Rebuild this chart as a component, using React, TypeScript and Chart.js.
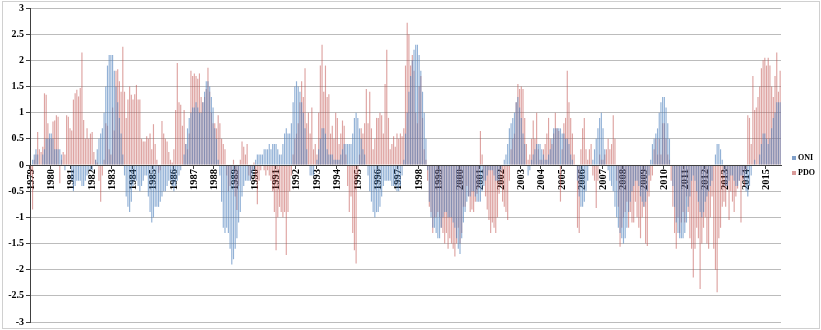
import React, { useEffect, useRef } from "react";
import { Chart, registerables } from "chart.js";

Chart.register(...registerables);

// Year tick labels (one per January)
const YEARS = [
  "1979", "1980", "1981", "1982", "1983", "1984", "1985", "1986", "1987", "1988",
  "1989", "1990", "1991", "1992", "1993", "1994", "1995", "1996", "1997", "1998",
  "1999", "2000", "2001", "2002", "2003", "2004", "2005", "2006", "2007", "2008",
  "2009", "2010", "2011", "2012", "2013", "2014", "2015",
];

// Oceanic Niño Index, monthly, Jan 1979 – Sep 2015
const ONI = [
  0.0, 0.1, 0.2, 0.3, 0.2, 0.0, 0.0, 0.2, 0.3, 0.5, 0.5, 0.6, // 1979
  0.6, 0.5, 0.3, 0.3, 0.3, 0.3, 0.2, 0.0, -0.1, 0.0, 0.0, 0.0, // 1980
  -0.3, -0.5, -0.4, -0.3, -0.3, -0.3, -0.4, -0.4, -0.3, -0.2, -0.1, -0.1, // 1981
  -0.1, 0.0, 0.1, 0.3, 0.5, 0.6, 0.7, 1.0, 1.5, 1.9, 2.1, 2.1, // 1982
  2.1, 1.8, 1.5, 1.2, 0.9, 0.6, 0.2, -0.2, -0.6, -0.8, -0.9, -0.7, // 1983
  -0.4, -0.3, -0.3, -0.4, -0.5, -0.4, -0.3, -0.2, -0.2, -0.6, -0.9, -1.1, // 1984
  -1.0, -0.8, -0.8, -0.8, -0.7, -0.6, -0.5, -0.5, -0.4, -0.3, -0.3, -0.4, // 1985
  -0.5, -0.4, -0.3, -0.2, -0.1, 0.0, 0.2, 0.4, 0.7, 0.9, 1.0, 1.1, // 1986
  1.1, 1.2, 1.1, 1.0, 1.0, 1.2, 1.4, 1.6, 1.6, 1.5, 1.3, 1.1, // 1987
  0.7, 0.5, 0.1, -0.2, -0.7, -1.2, -1.3, -1.2, -1.3, -1.6, -1.9, -1.8, // 1988
  -1.6, -1.4, -1.1, -0.9, -0.6, -0.4, -0.3, -0.3, -0.3, -0.3, -0.2, -0.1, // 1989
  0.1, 0.2, 0.2, 0.2, 0.2, 0.3, 0.3, 0.3, 0.4, 0.3, 0.4, 0.4, // 1990
  0.4, 0.3, 0.2, 0.2, 0.4, 0.6, 0.7, 0.6, 0.6, 0.8, 1.2, 1.5, // 1991
  1.6, 1.5, 1.4, 1.2, 1.0, 0.7, 0.3, 0.0, -0.2, -0.2, -0.2, 0.0, // 1992
  0.1, 0.3, 0.5, 0.7, 0.7, 0.6, 0.3, 0.2, 0.2, 0.2, 0.1, 0.1, // 1993
  0.1, 0.1, 0.2, 0.3, 0.4, 0.4, 0.4, 0.4, 0.4, 0.6, 0.9, 1.0, // 1994
  0.9, 0.7, 0.5, 0.3, 0.2, 0.0, -0.2, -0.5, -0.7, -0.9, -1.0, -0.9, // 1995
  -0.9, -0.8, -0.6, -0.4, -0.3, -0.3, -0.3, -0.3, -0.4, -0.4, -0.4, -0.5, // 1996
  -0.5, -0.4, -0.2, 0.1, 0.6, 1.0, 1.4, 1.7, 2.0, 2.2, 2.3, 2.3, // 1997
  2.1, 1.8, 1.4, 1.0, 0.5, -0.1, -0.7, -1.0, -1.2, -1.2, -1.3, -1.4, // 1998
  -1.4, -1.2, -1.0, -0.9, -0.9, -1.0, -1.0, -1.0, -1.1, -1.2, -1.4, -1.6, // 1999
  -1.7, -1.4, -1.1, -0.9, -0.7, -0.6, -0.6, -0.5, -0.5, -0.6, -0.7, -0.7, // 2000
  -0.7, -0.5, -0.4, -0.3, -0.2, -0.1, -0.1, -0.1, -0.2, -0.3, -0.3, -0.3, // 2001
  -0.1, 0.0, 0.1, 0.2, 0.4, 0.7, 0.8, 0.9, 1.0, 1.2, 1.3, 1.1, // 2002
  0.9, 0.6, 0.4, 0.0, -0.2, -0.1, 0.1, 0.2, 0.3, 0.4, 0.4, 0.4, // 2003
  0.3, 0.2, 0.1, 0.1, 0.2, 0.3, 0.5, 0.7, 0.7, 0.7, 0.7, 0.7, // 2004
  0.6, 0.6, 0.5, 0.5, 0.4, 0.2, 0.1, 0.0, 0.0, -0.3, -0.6, -0.8, // 2005
  -0.8, -0.7, -0.5, -0.3, 0.0, 0.0, 0.1, 0.3, 0.5, 0.7, 0.9, 1.0, // 2006
  0.7, 0.3, 0.0, -0.1, -0.3, -0.4, -0.5, -0.8, -1.0, -1.2, -1.3, -1.4, // 2007
  -1.5, -1.4, -1.2, -0.9, -0.7, -0.5, -0.4, -0.3, -0.3, -0.4, -0.6, -0.7, // 2008
  -0.8, -0.7, -0.5, -0.2, 0.1, 0.4, 0.5, 0.6, 0.7, 1.0, 1.2, 1.3, // 2009
  1.3, 1.1, 0.8, 0.5, 0.0, -0.4, -0.8, -1.1, -1.3, -1.4, -1.4, -1.4, // 2010
  -1.3, -1.1, -0.8, -0.6, -0.3, -0.2, -0.3, -0.5, -0.7, -0.9, -1.0, -0.9, // 2011
  -0.7, -0.6, -0.5, -0.4, -0.3, 0.0, 0.2, 0.4, 0.4, 0.3, 0.1, -0.2, // 2012
  -0.4, -0.4, -0.3, -0.2, -0.2, -0.3, -0.4, -0.4, -0.3, -0.2, -0.2, -0.3, // 2013
  -0.5, -0.6, -0.4, -0.2, 0.0, 0.1, 0.0, 0.0, 0.2, 0.4, 0.6, 0.6, // 2014
  0.5, 0.4, 0.5, 0.7, 0.9, 1.0, 1.2, 1.2, 1.2, // 2015
];

// Pacific Decadal Oscillation index, monthly, Jan 1979 – Sep 2015
const PDO = [
  -0.2, -0.85, 0.1, 0.2, 0.63, 0.3, 0.25, 0.35, 1.37, 1.34, 0.8, 0.5, // 1979
  0.5, 0.83, 0.85, 0.95, 0.92, -0.35, 0.1, 0.25, 0.2, 0.95, 0.92, 0.7, // 1980
  0.66, 1.25, 1.37, 1.44, 1.31, 1.47, 2.15, 0.86, 0.5, 0.7, 0.5, 0.6, // 1981
  0.63, 0.25, 0.1, 0.05, -0.3, -0.7, -0.2, 0.1, 0.8, 0.75, 0.3, 0.2, // 1982
  1.1, 0.66, 1.8, 1.83, 1.6, 1.4, 2.26, 1.4, 0.9, 1.25, 1.5, 1.34, // 1983
  1.25, 1.35, 1.53, 1.25, 1.25, 0.5, 0.45, 0.45, 0.55, 0.5, 0.6, 0.3, // 1984
  0.78, 0.4, 0.1, -0.15, -0.1, 0.84, 0.6, 0.5, 0.45, 0.25, 0.1, 0.05, // 1985
  0.3, 1.05, 1.95, 1.2, 1.15, 0.75, 1.05, 0.4, 0.3, 0.6, 1.8, 1.7, // 1986
  1.75, 1.7, 1.65, 1.75, 1.3, 1.2, 1.3, 1.45, 1.86, 1.4, 1.0, 0.8, // 1987
  0.8, 0.7, 0.95, 0.8, 0.5, 0.4, 0.3, -0.2, -0.5, -0.4, -0.1, 0.1, // 1988
  -0.6, -0.86, -0.4, 0.1, 0.45, 0.35, 0.2, 0.4, -0.2, -0.3, -0.1, 0.05, // 1989
  -0.3, -0.75, -0.3, -0.1, 0.0, -0.1, -0.2, -0.1, -0.2, -0.3, -0.5, -0.9, // 1990
  -1.63, -1.0, -0.8, -0.9, -1.0, -0.9, -1.72, -0.9, -0.5, -0.2, 0.2, 0.5, // 1991
  0.6, 0.8, 1.2, 1.6, 1.3, 1.85, 0.8, 1.0, 0.6, 1.1, 0.3, 0.4, // 1992
  0.2, 1.0, 1.9, 2.3, 1.4, 1.9, 1.3, 1.35, 0.6, 0.75, 0.5, 1.0, // 1993
  0.9, 0.4, 0.6, 0.85, 0.75, 0.2, -0.4, -0.9, -0.6, -1.3, -1.63, -1.88, // 1994
  -0.2, 0.2, 0.7, 0.6, 0.8, 1.45, 0.8, 1.4, 0.7, 0.3, 0.5, 0.9, // 1995
  0.9, 1.0, 0.95, 0.6, 1.55, 2.2, 0.9, 0.3, 0.4, 0.55, 0.35, 0.6, // 1996
  0.5, 0.6, 0.55, 0.7, 1.9, 2.72, 2.5, 1.9, 2.1, 1.8, 1.0, 0.8, // 1997
  1.5, 1.7, 0.9, 0.3, 0.1, -0.3, -0.8, -0.9, -1.3, -1.0, -1.0, -0.9, // 1998
  -1.0, -1.2, -1.3, -1.5, -1.3, -1.6, -1.4, -1.5, -1.6, -1.75, -1.5, -1.2, // 1999
  -1.5, -1.3, -0.8, -0.8, -0.4, -0.6, -0.9, -0.85, -0.9, -0.7, -0.55, -0.45, // 2000
  0.65, 0.2, -0.3, -0.6, -0.85, -1.05, -1.3, -1.1, -1.2, -1.3, -1.0, -0.55, // 2001
  -0.4, -0.7, -0.8, -0.9, -1.05, -0.3, 0.3, 0.5, 0.6, 1.2, 1.55, 1.45, // 2002
  1.5, 1.45, 0.9, 0.4, 0.1, 0.2, 0.5, 0.85, 0.5, 1.0, 0.3, 0.1, // 2003
  0.1, 0.3, 0.4, 0.6, 0.9, 0.5, 0.4, 0.6, 1.0, 0.7, 0.65, -0.7, // 2004
  0.3, 0.8, 0.9, 1.8, 1.2, 0.9, 0.6, 0.2, 0.0, -1.2, -1.3, 0.3, // 2005
  0.7, 0.9, 0.3, 0.1, 0.3, 0.4, -0.2, -0.3, -0.82, -0.3, 0.2, 0.1, // 2006
  0.1, 0.2, 0.3, 0.5, 0.3, 0.4, 0.95, 0.5, -0.3, -0.8, -1.56, -1.2, // 2007
  -1.0, -0.9, -0.7, -1.2, -0.9, -1.1, -1.1, -0.7, -1.0, -1.2, -1.4, -1.0, // 2008
  -0.8, -1.5, -1.55, -0.6, -0.3, -0.2, 0.3, 0.5, 0.2, 0.5, 0.2, 0.8, // 2009
  0.8, 0.5, 0.2, 0.1, -0.3, -0.8, -1.3, -1.6, -1.0, -1.3, -1.1, -0.9, // 2010
  -1.1, -0.6, -0.9, -1.4, -1.6, -2.15, -1.6, -1.2, -1.4, -2.37, -1.5, -1.2, // 2011
  -1.0, -1.5, -1.6, -1.0, -0.6, -1.6, -2.0, -2.43, -1.4, -1.2, -0.8, -0.7, // 2012
  -0.8, -0.4, -1.05, -0.5, -0.7, -0.9, -0.6, -0.45, -0.3, -1.1, -0.3, -0.4, // 2013
  -0.1, 0.95, 0.9, 0.4, 1.7, 1.05, 1.1, 1.3, 1.5, 1.85, 2.0, 2.05, // 2014
  1.9, 2.05, 1.9, 1.5, 1.3, 1.7, 2.15, 1.4, 1.8, // 2015
];

const SERIES_NAMES = ["ONI", "PDO"];

const ONI_FILL = "rgba(79,129,189,0.62)";
const PDO_FILL = "rgba(192,80,77,0.52)";
const ONI_SWATCH = "#7f9fc9";
const PDO_SWATCH = "#d99a99";
const FONT_FAMILY = '"Liberation Serif", "Times New Roman", serif';

// One category per month; only Januaries carry a year label
const CATEGORIES = ONI.map((_, i) => (i % 12 === 0 ? YEARS[i / 12] : ""));

const sideLegend = {
  id: "sideLegend",
  afterDraw(chart: any) {
    const { ctx, chartArea } = chart;
    const cy = (chartArea.top + chartArea.bottom) / 2;
    const x = chartArea.right + 11;
    const items = [
      { t: SERIES_NAMES[0], c: ONI_SWATCH, y: cy - 7 },
      { t: SERIES_NAMES[1], c: PDO_SWATCH, y: cy + 8 },
    ];
    ctx.save();
    ctx.font = `bold 8px ${FONT_FAMILY}`;
    ctx.textBaseline = "middle";
    ctx.textAlign = "left";
    for (const it of items) {
      ctx.fillStyle = it.c;
      ctx.fillRect(x, it.y - 2, 4, 4);
      ctx.fillStyle = "#000";
      ctx.fillText(it.t, x + 6, it.y);
    }
    ctx.restore();
  },
};

export default function App() {
  const canvasRef = useRef<HTMLCanvasElement | null>(null);

  useEffect(() => {
    document.body.style.margin = "0";
    const canvas = canvasRef.current;
    if (!canvas) return;
    const chart = new Chart(canvas, {
      type: "bar",
      data: {
        labels: CATEGORIES,
        datasets: [
          {
            label: SERIES_NAMES[0],
            data: ONI,
            backgroundColor: ONI_FILL,
            borderWidth: 0,
            grouped: false,
            barPercentage: 0.68,
            categoryPercentage: 1,
          },
          {
            label: SERIES_NAMES[1],
            data: PDO,
            backgroundColor: PDO_FILL,
            borderWidth: 0,
            grouped: false,
            barPercentage: 0.68,
            categoryPercentage: 1,
          },
        ],
      },
      options: {
        animation: false,
        responsive: false,
        maintainAspectRatio: false,
        layout: { padding: { left: 8, right: 40, top: 4, bottom: 4 } },
        plugins: {
          legend: { display: false },
          tooltip: { enabled: false },
        },
        scales: {
          x: {
            type: "category",
            position: { y: 0 } as any,
            z: 1,
            grid: {
              display: true,
              drawOnChartArea: false,
              drawTicks: true,
              tickLength: 3,
              tickColor: (c: any) => (c.index % 12 === 0 ? "#404040" : "rgba(0,0,0,0)"),
            },
            border: { display: true, color: "#404040", width: 1, z: 1 } as any,
            ticks: {
              autoSkip: false,
              maxRotation: 90,
              minRotation: 90,
              padding: 1,
              color: "#000",
              font: { family: FONT_FAMILY, weight: "bold", size: 10.5 },
              callback: (_v: any, i: number) => CATEGORIES[i],
            },
          },
          y: {
            min: -3,
            max: 3,
            afterFit: (s: any) => {
              s.width = 22;
            },
            grid: {
              color: "#bcbcbc",
              lineWidth: 1,
              drawTicks: true,
              tickLength: 4,
              tickColor: "#404040",
            },
            border: { display: true, color: "#404040", width: 1 },
            ticks: {
              stepSize: 0.5,
              padding: 2,
              color: "#000",
              font: { family: FONT_FAMILY, weight: "bold", size: 10 },
              callback: (v: any) => String(v),
            },
          },
        },
      },
      plugins: [sideLegend],
    });
    return () => chart.destroy();
  }, []);

  return (
    <div style={{ position: "relative", width: 821, height: 330, background: "#fff" }}>
      <canvas ref={canvasRef} width={821} height={330} style={{ display: "block", width: 821, height: 330 }} />
      <div
        style={{
          position: "absolute",
          left: 2,
          top: 1,
          width: 816,
          height: 326,
          border: "1px solid #d0d0d0",
          pointerEvents: "none",
        }}
      />
    </div>
  );
}
